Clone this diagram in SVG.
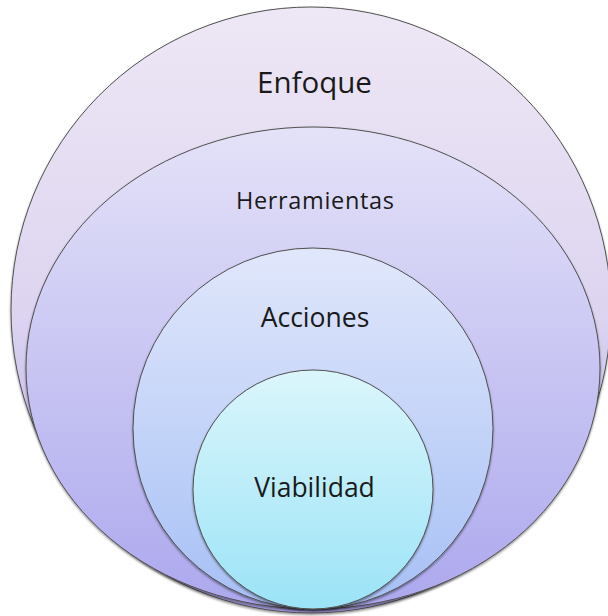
<svg xmlns="http://www.w3.org/2000/svg" width="608" height="616" viewBox="0 0 608 616">
<defs>
<linearGradient id="g1" x1="0" y1="0" x2="0" y2="1">
<stop offset="0" stop-color="#eee7f5"/>
<stop offset="0.5" stop-color="#ddd5f0"/>
<stop offset="1" stop-color="#aba2ea"/>
</linearGradient>
<linearGradient id="g2" x1="0" y1="0" x2="0" y2="1">
<stop offset="0" stop-color="#e4e2f8"/>
<stop offset="1" stop-color="#aca8ee"/>
</linearGradient>
<linearGradient id="g3" x1="0" y1="0" x2="0" y2="1">
<stop offset="0" stop-color="#e1e7fb"/>
<stop offset="1" stop-color="#a6c0f5"/>
</linearGradient>
<linearGradient id="g4" x1="0" y1="0" x2="0" y2="1">
<stop offset="0" stop-color="#dbf6fb"/>
<stop offset="1" stop-color="#9be3f7"/>
</linearGradient>
<filter id="sh" x="-5%" y="-5%" width="110%" height="112%">
<feDropShadow dx="0" dy="1.5" stdDeviation="1.2" flood-color="#000" flood-opacity="0.45"/>
</filter>
</defs>
<style>
.ring{stroke:#505050;stroke-width:1;filter:url(#sh);}
.lbl{font-family:"Open Sans","Noto Sans","DejaVu Sans",sans-serif;fill:#1a1a1a;text-anchor:middle;}
</style>
<rect width="608" height="616" fill="#ffffff"/>
<g id="enfoque">
<ellipse class="ring" cx="311" cy="310" rx="300" ry="303" fill="url(#g1)"/>
<text class="lbl" x="314.5" y="93" font-size="29.5">Enfoque</text>
</g>
<g id="herramientas">
<ellipse class="ring" cx="313" cy="368" rx="287" ry="241" fill="url(#g2)"/>
<text class="lbl" x="315" y="209" font-size="23.5" textLength="158" lengthAdjust="spacing">Herramientas</text>
</g>
<g id="acciones">
<ellipse class="ring" cx="313" cy="428.5" rx="180" ry="180.5" fill="url(#g3)"/>
<text class="lbl" x="315" y="327" font-size="26.5">Acciones</text>
</g>
<g id="viabilidad">
<ellipse class="ring" cx="313" cy="489.5" rx="120" ry="119.5" fill="url(#g4)"/>
<text class="lbl" x="314.5" y="497" font-size="26.5">Viabilidad</text>
</g>
<g id="connectors"/>
</svg>
